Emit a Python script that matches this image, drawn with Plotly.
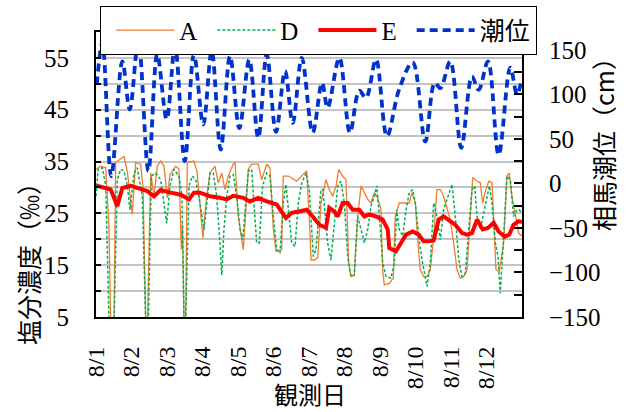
import pandas as pd
import plotly.graph_objects as go

# ---------------- data (hours since 8/1 00:00) ----------------
day_labels = ["8/1", "8/2", "8/3", "8/4", "8/5", "8/6", "8/7", "8/8", "8/9", "8/10", "8/11", "8/12"]

tide_hours = [0.5, 4.3, 10.3, 17.8, 22.8, 28.6, 35.4, 41.4, 47.8, 53.4, 60.0, 66.2, 72.5, 78.2,
              84.3, 90.6, 96.9, 103.6, 109.7, 115.4, 121.7, 127.8, 133.0, 139.1, 146.5, 152.8,
              156.6, 164.5, 171.7, 178.0, 182.5, 189.3, 196.7, 205.0, 214.1, 222.6, 229.0, 232.8,
              239.5, 246.9, 254.2, 258.7, 265.0, 272.2, 280.1, 284.6, 287.5]
tide_cm = [111, 158, 8, 137, 83, 160, 14, 145, 72, 154, 25, 145, 66, 149,
           38, 143, 62, 139, 51, 145, 58, 126, 68, 141, 57, 113,
           85, 141, 57, 104, 96, 139, 53, 106, 136, 47, 113, 107,
           137, 40, 120, 105, 137, 32, 130, 100, 115]

e_hours = [0, 5.4, 9.9, 14.4, 17.8, 23.5, 30.2, 34.7, 39.2, 43.7, 50.5, 57.3, 62.9, 66.2,
           70.3, 77.1, 83.8, 88.4, 92.8, 99.6, 104.1, 109.7, 115.4, 122.2, 128.4, 132.3,
           137.9, 142.4, 146.5, 151.0, 155.5, 157.7, 161.1, 163.4, 166.8, 170.2, 173.5,
           178.0, 181.4, 184.8, 189.3, 193.8, 197.2, 198.3, 202.8, 206.2, 209.6, 214.1,
           218.2, 221.5, 224.9, 228.3, 231.7, 235.0, 238.4, 242.9, 247.4, 250.8, 254.2,
           257.6, 261.4, 265.0, 268.8, 272.2, 276.3, 279.4, 282.3, 285.7, 288.0]
e_vals = [30.4, 29.9, 29.6, 26.4, 29.9, 30.3, 29.6, 29.3, 28.3, 29.5, 29.0, 28.6, 27.7, 29.0,
          29.0, 28.3, 28.0, 27.7, 28.4, 28.0, 27.3, 28.0, 27.3, 26.7, 24.1, 25.1,
          25.4, 25.7, 24.4, 22.8, 22.2, 26.1, 25.4, 24.4, 27.0, 27.0, 25.7,
          25.7, 24.4, 24.8, 24.4, 23.8, 21.9, 18.3, 17.7, 19.3, 20.9, 21.5,
          20.9, 19.6, 19.6, 19.8, 23.8, 24.4, 23.8, 22.8, 21.2, 20.9, 21.2,
          23.8, 21.9, 22.2, 23.2, 21.5, 20.5, 20.9, 22.8, 23.5, 23.3]

a_hours = [0, 3.2, 6.6, 8.8, 9.9, 12.2, 13.3, 18.9, 21.2, 24.5, 26.8, 30.2, 31.8, 33.6, 34.8,
           37.0, 39.2, 41.4, 43.7, 46.0, 48.2, 50.0, 53.9, 56.1, 57.7, 58.5, 59.5, 60.6,
           61.7, 66.2, 68.3, 70.8, 72.3, 74.8, 77.1, 80.4, 82.7, 85.0, 87.2, 89.4, 92.8,
           94.0, 96.2, 99.6, 101.4, 103.0, 105.2, 109.7, 112.0, 115.4, 117.6, 119.9, 121.7,
           125.5, 126.6, 130.0, 135.7, 139.1, 142.4, 144.2, 145.4, 147.6, 149.9, 152.1,
           155.5, 157.7, 160.0, 162.3, 164.1, 166.8, 169.0, 170.8, 172.4, 174.6, 176.9,
           179.2, 181.4, 183.7, 185.9, 188.2, 190.4, 192.7, 193.8, 194.9, 198.3, 201.0,
           202.3, 205.0, 208.4, 211.8, 213.6, 215.9, 217.0, 219.2, 221.5, 223.8, 226.0,
           228.3, 230.5, 232.8, 235.0, 237.3, 239.5, 241.8, 244.1, 246.3, 248.6, 250.8,
           253.0, 254.7, 257.6, 259.8, 261.4, 263.0, 265.5, 267.7, 268.8, 270.4, 272.6,
           275.6, 277.8, 279.4, 281.2, 283.5, 285.7, 288.0]
a_vals = [33.5, 34.1, 33.8, 21.9, 4.0, 4.0, 34.8, 36.0, 33.0, 24.8, 34.8, 34.5, 30.0, 4.0, 4.0,
          32.8, 28.3, 34.1, 35.1, 34.1, 28.0, 32.5, 34.1, 33.5, 18.0, 23.0, 4.0, 4.0,
          34.8, 35.1, 33.0, 24.4, 20.2, 28.3, 32.8, 34.1, 30.9, 32.8, 29.6, 32.2, 34.5,
          34.8, 24.4, 18.0, 27.0, 33.5, 34.5, 34.5, 31.5, 34.5, 33.8, 21.9, 17.7,
          18.0, 32.2, 32.2, 31.2, 32.2, 33.2, 24.0, 16.0, 16.0, 16.4, 27.0,
          31.5, 29.6, 28.3, 30.3, 33.5, 32.2, 31.5, 15.4, 12.8, 13.1, 24.4,
          30.3, 29.0, 27.7, 27.0, 29.0, 28.0, 25.7, 14.1, 11.2, 11.5, 12.5,
          24.4, 27.0, 27.0, 27.0, 29.0, 27.0, 21.9, 14.1, 12.8, 12.8, 14.1,
          20.6, 29.6, 29.6, 28.3, 25.7, 23.8, 19.3, 14.1, 12.5, 12.8, 14.1,
          24.4, 31.9, 31.2, 30.9, 27.0, 29.0, 31.2, 30.9, 24.4, 14.1, 13.8,
          19.3, 32.2, 32.8, 28.3, 24.4, 21.2, 20.6]

d_hours = [0, 1.4, 4.3, 6.6, 8.8, 12.2, 14.4, 16.7, 18.9, 21.2, 23.0, 25.7, 27.9, 31.3, 33.6,
           35.4, 37.4, 40.4, 43.7, 46.0, 47.8, 50.0, 52.7, 56.1, 58.1, 59.5, 60.6, 62.9,
           65.1, 67.4, 70.3, 73.0, 77.1, 79.3, 81.6, 83.8, 85.0, 86.5, 88.4, 90.6, 92.8,
           95.1, 97.4, 99.2, 101.4, 103.0, 105.2, 107.5, 108.6, 110.4, 112.6, 115.4, 117.6,
           119.9, 122.2, 124.4, 126.6, 128.4, 130.0, 132.3, 134.5, 136.8, 139.1, 142.0,
           144.2, 145.2, 146.9, 148.7, 150.5, 152.1, 153.4, 155.0, 156.6, 158.9, 161.1,
           163.4, 165.6, 167.9, 170.2, 172.4, 174.6, 176.9, 179.2, 181.4, 183.7, 185.9,
           188.2, 189.8, 191.6, 193.8, 196.1, 199.4, 201.7, 203.3, 205.0, 207.3, 209.6,
           211.8, 214.1, 215.9, 218.2, 220.4, 223.8, 226.0, 228.3, 230.5, 232.8, 235.0,
           237.3, 240.7, 242.9, 245.3, 247.4, 249.7, 252.0, 254.2, 256.0, 257.6, 259.8,
           263.2, 265.9, 267.7, 270.0, 271.8, 273.3, 275.6, 277.8, 280.1, 282.3, 284.6,
           286.2, 288.0]
d_vals = [28.3, 33.5, 33.8, 30.3, 4.0, 4.0, 31.5, 33.5, 33.2, 30.3, 25.7, 32.8, 33.8, 28.3, 4.0,
          4.0, 32.2, 32.8, 31.5, 27.0, 23.1, 30.3, 33.5, 32.2, 28.3, 4.0, 4.0, 30.3,
          32.2, 31.5, 27.0, 21.9, 32.8, 32.8, 28.3, 19.3, 13.1, 21.9, 28.3, 32.2, 32.5,
          28.3, 21.9, 19.9, 27.0, 33.2, 33.5, 24.4, 19.3, 19.3, 30.3, 32.8, 32.2,
          24.4, 18.0, 17.3, 27.0, 30.6, 25.7, 19.3, 18.6, 27.0, 30.9, 32.8,
          29.6, 24.4, 16.7, 18.0, 24.4, 29.6, 29.6, 24.4, 19.3, 16.0, 23.1,
          30.3, 31.2, 27.0, 16.7, 12.8, 13.1, 24.4, 21.9, 19.3, 21.9, 26.4,
          28.3, 30.3, 24.4, 15.4, 12.8, 12.5, 15.4, 25.7, 21.9, 20.6, 25.7,
          29.0, 29.6, 27.0, 20.6, 16.0, 10.9, 15.4, 27.0, 24.4, 19.9, 25.7,
          27.7, 30.6, 24.4, 16.0, 12.8, 13.4, 21.9, 29.6, 30.3, 24.4, 21.9,
          27.0, 30.3, 27.0, 19.3, 16.7, 9.6, 20.6, 32.2, 31.5, 24.4, 25.7,
          25.7, 25.0]

# ---------------- figure ----------------
base = pd.Timestamp("2023-08-01")


def to_time(hours):
    return [base + pd.Timedelta(hours=h) for h in hours]


day_ticks = [base + pd.Timedelta(days=i) for i in range(len(day_labels))]

SERIF = "Liberation Serif, Noto Sans CJK JP, serif"
CJK = "Noto Sans CJK JP, sans-serif"

fig = go.Figure()
fig.add_trace(go.Scatter(x=to_time(a_hours), y=a_vals, name="A", mode="lines",
                         line=dict(color="#ED7D31", width=1.3)))
fig.add_trace(go.Scatter(x=to_time(d_hours), y=d_vals, name="D", mode="lines",
                         line=dict(color="#00B050", width=1.5, dash="3px,2px")))
fig.add_trace(go.Scatter(x=to_time(e_hours), y=e_vals, name="E", mode="lines",
                         line=dict(color="#FF0000", width=4)))
fig.add_trace(go.Scatter(x=to_time(tide_hours), y=tide_cm, name="潮位", mode="lines", yaxis="y2",
                         line=dict(color="#0033CC", width=3.8, dash="8px,5px", shape="spline",
                                   smoothing=1.0)))

W, H = 626, 412
L, R, T, B = 96, 104, 32, 95
PW, PH = W - L - R, H - T - B


def px_x(p):
    return (p - L) / PW


def px_y(p):
    return (H - B - p) / PH


fig.update_layout(
    width=W, height=H,
    margin=dict(l=L, r=R, t=T, b=B, autoexpand=False),
    paper_bgcolor="white", plot_bgcolor="white",
    font=dict(family=SERIF, size=25, color="black"),
    showlegend=True,
    legend=dict(orientation="h", x=px_x(537), xanchor="right", y=px_y(6), yanchor="top",
                bgcolor="white", bordercolor="black", borderwidth=1.3, indentation=10,
                font=dict(family=SERIF, size=25), itemwidth=58, tracegroupgap=0),
    xaxis=dict(range=[base, base + pd.Timedelta(days=12)], tickvals=day_ticks, ticktext=day_labels,
               tickangle=-90, showgrid=False, showline=True, linecolor="black", linewidth=2,
               mirror=True, ticks="", ticklabelstandoff=18, zeroline=False,
               tickfont=dict(size=24)),
    yaxis=dict(range=[5, 60], tick0=5, dtick=10, ticks="inside", ticklen=5, tickwidth=1.5,
               tickcolor="black", showgrid=True, gridcolor="#c4c4c4", gridwidth=1.5,
               showline=True, linecolor="black", linewidth=2, zeroline=False,
               ticklabelstandoff=20,
               minor=dict(tick0=5, dtick=5, ticks="inside", ticklen=5, tickwidth=1.5,
                          tickcolor="black", showgrid=True, gridcolor="#c4c4c4", gridwidth=1.5)),
    yaxis2=dict(overlaying="y", side="right", range=[-150, 170], tick0=-150, dtick=50,
                ticks="inside", ticklen=8, tickwidth=1.5, tickcolor="black", showgrid=False,
                showline=True, linecolor="black", linewidth=2, zeroline=False,
                ticklabelstandoff=20,
                minor=dict(tick0=-150, dtick=25, ticks="inside", ticklen=8, tickwidth=1.5,
                           tickcolor="black", showgrid=False)),
    annotations=[
        dict(text="塩分濃度（‰）", xref="paper", yref="paper", x=px_x(28), y=px_y(258),
             xanchor="center", yanchor="middle", textangle=-90, showarrow=False,
             font=dict(family=CJK, size=25)),
        dict(text="相馬潮位（cm）", xref="paper", yref="paper", x=px_x(603), y=px_y(138),
             xanchor="center", yanchor="middle", textangle=-90, showarrow=False,
             font=dict(family=CJK, size=25)),
        dict(text="観測日", xref="paper", yref="paper", x=px_x(310), y=px_y(393),
             xanchor="center", yanchor="middle", showarrow=False,
             font=dict(family=CJK, size=24)),
    ],
)

fig.write_html("out.html")
